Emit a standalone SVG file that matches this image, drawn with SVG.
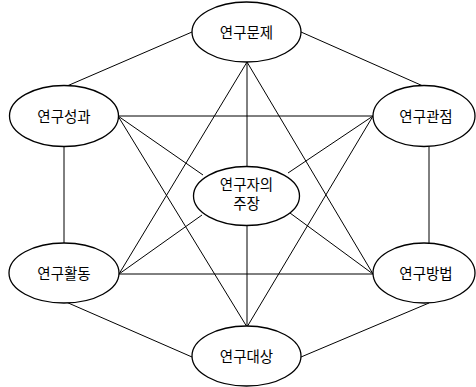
<svg xmlns="http://www.w3.org/2000/svg" width="476" height="387" viewBox="0 0 476 387">
<style>
.n ellipse{fill:#fff;stroke:#000;stroke-width:1.3}
.n text{font-family:"Noto Sans CJK KR","Noto Sans",sans-serif;font-size:14.5px;fill:#000;text-anchor:middle}
#edges line{stroke:#000;stroke-width:1}
</style>
<rect width="476" height="387" fill="#fff"/>
<g id="edges">
<line x1="192" y1="32" x2="67" y2="86"/>
<line x1="301" y1="32" x2="423" y2="86"/>
<line x1="64" y1="146" x2="64" y2="243"/>
<line x1="429" y1="146" x2="429" y2="244"/>
<line x1="66" y1="302" x2="192" y2="357"/>
<line x1="429" y1="303" x2="301" y2="357"/>
<line x1="118" y1="116" x2="373" y2="116"/>
<line x1="119" y1="274" x2="373" y2="274"/>
<line x1="247" y1="62" x2="119" y2="274"/>
<line x1="247" y1="62" x2="373" y2="274"/>
<line x1="247" y1="62" x2="247" y2="327"/>
<line x1="118" y1="116" x2="247" y2="327"/>
<line x1="373" y1="116" x2="247" y2="327"/>
<line x1="118" y1="116" x2="203" y2="175"/>
<line x1="373" y1="116" x2="288" y2="173"/>
<line x1="119" y1="274" x2="202" y2="215"/>
<line x1="373" y1="274" x2="290" y2="213"/>
</g>
<g id="n-problem" class="n"><ellipse cx="246.5" cy="32" rx="54.5" ry="30"/><text x="246.5" y="37.5">연구문제</text></g>
<g id="n-result" class="n"><ellipse cx="64" cy="116" rx="54.5" ry="30.5"/><text x="64" y="121.5">연구성과</text></g>
<g id="n-view" class="n"><ellipse cx="424" cy="116" rx="51" ry="30.5"/><text x="426" y="121.5">연구관점</text></g>
<g id="n-claim" class="n"><ellipse cx="246.5" cy="196" rx="53" ry="29.5"/><text x="246.5" y="190">연구자의</text><text x="246.5" y="209">주장</text></g>
<g id="n-activity" class="n"><ellipse cx="64" cy="273" rx="55" ry="30"/><text x="64" y="278.5">연구활동</text></g>
<g id="n-method" class="n"><ellipse cx="424" cy="273" rx="51" ry="30"/><text x="426" y="278.5">연구방법</text></g>
<g id="n-target" class="n"><ellipse cx="246.5" cy="356" rx="54.5" ry="30"/><text x="246.5" y="361.5">연구대상</text></g>
</svg>
